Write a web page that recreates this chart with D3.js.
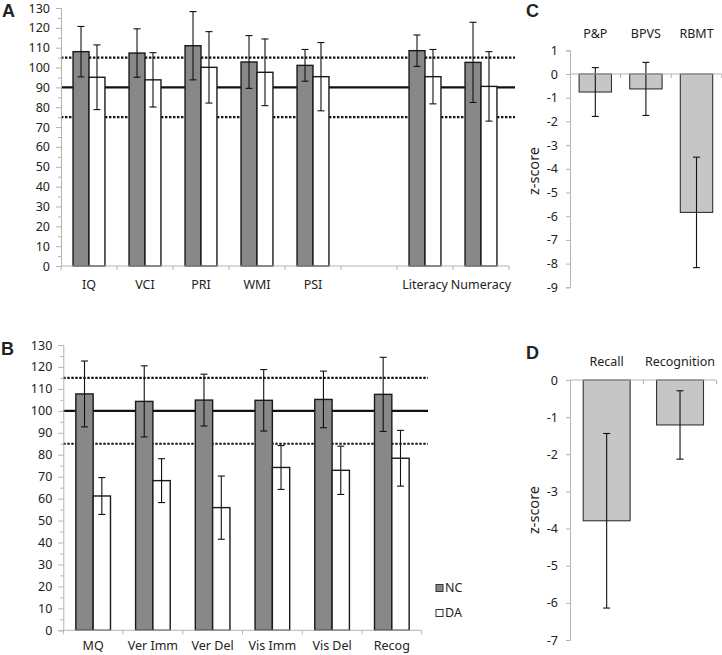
<!DOCTYPE html>
<html>
<head>
<meta charset="utf-8">
<script src="https://cdn.jsdelivr.net/npm/d3@7"></script>
<style>
  html, body { margin: 0; padding: 0; background: #fff; }
  svg { display: block; }
  text { font-family: "Noto Sans", "Open Sans", sans-serif; fill: #222; }
</style>
</head>
<body>
<svg id="chart" width="722" height="655"></svg>
<script>
// ---------- DATA ----------
const catsA = ["IQ", "VCI", "PRI", "WMI", "PSI", "", "Literacy", "Numeracy"];
const ncA    = [108.0, 107.3, 111.0, 102.8, 101.1, null, 108.5, 102.6];
const ncAErr = [12.7, 12.2, 17.2, 13.3, 8.0, null, 7.9, 20.2];
const daA    = [95.1, 93.8, 100.1, 97.6, 95.4, null, 95.4, 90.5];
const daAErr = [16.3, 13.7, 18.0, 16.8, 17.2, null, 13.7, 17.5];
const refLinesA = [75, 90, 105];   // lower dotted, solid mean, upper dotted

const catsB = ["MQ", "Ver Imm", "Ver Del", "Vis Imm", "Vis Del", "Recog"];
const ncB    = [107.7, 104.3, 104.9, 104.8, 105.2, 107.5];
const ncBErr = [15.0, 16.2, 11.8, 14.0, 12.9, 16.9];
const daB    = [61.2, 68.2, 55.9, 74.2, 72.9, 78.4];
const daBErr = [8.4, 10.0, 14.4, 10.0, 11.0, 12.7];
const refLinesB = [85, 100, 115];

const yTicksAB = d3.range(0, 131, 10);

const catsC = ["P&P", "BPVS", "RBMT"];
const zC    = [-0.76, -0.63, -5.84];
const zCErr = [1.03, 1.12, 2.33];
const yTicksC = d3.range(-9, 2, 1);

const catsD = ["Recall", "Recognition"];
const zD    = [-3.79, -1.21];
const zDErr = [2.35, 0.92];
const yTicksD = d3.range(-7, 1, 1);

const groups = ["NC", "DA"];

// ---------- DRAW ----------
const svg = d3.select("#chart");
svg.append("rect").attr("width", 722).attr("height", 655).attr("fill", "#fff");

const AXIS_COL = "#b3b3b3";
const NC_FILL = "#888888";
const DA_FILL = "#ffffff";
const Z_FILL = "#c6c6c6";
const fmt = d => String(d);   // plain hyphen-minus like the original

function panelLabel(t, x, y) {
  svg.append("text").attr("x", x).attr("y", y).text(t)
    .style("font-family", "'Liberation Sans', Arial, sans-serif")
    .style("font-weight", "bold").style("font-size", "18px").attr("fill", "#000");
}

function errorBar(g, cx, y, v, e, capHalf) {
  g.append("line").attr("x1", cx).attr("x2", cx).attr("y1", y(v + e)).attr("y2", y(v - e))
    .attr("stroke", "#111").attr("stroke-width", 1.1);
  [v + e, v - e].forEach(t => {
    g.append("line").attr("x1", cx - capHalf).attr("x2", cx + capHalf)
      .attr("y1", y(t)).attr("y2", y(t)).attr("stroke", "#111").attr("stroke-width", 1.1);
  });
}

function groupedPanel(o) {
  const g = svg.append("g");
  const y = d3.scaleLinear().domain([0, 130]).range([o.yBottom, o.yTop]);
  const x = d3.scaleBand().domain(d3.range(o.cats.length)).range([o.x0, o.x1])
    .paddingInner(o.padIn).paddingOuter(o.padIn / 2);
  const xs = d3.scaleBand().domain(groups).range([0, x.bandwidth()]);

  // reference lines (behind bars)
  o.refs.forEach((r, i) => {
    g.append("line").attr("x1", o.x0).attr("x2", o.lineEnd)
      .attr("y1", y(r)).attr("y2", y(r))
      .attr("stroke", "#111").attr("stroke-width", 2.2)
      .attr("stroke-dasharray", i === 1 ? null : "2.4,1.6");
  });

  // bars
  const series = [
    { key: "NC", vals: o.nc, errs: o.ncErr, fill: NC_FILL },
    { key: "DA", vals: o.da, errs: o.daErr, fill: DA_FILL }
  ];
  series.forEach(s => {
    s.vals.forEach((v, i) => {
      if (v == null) return;
      g.append("rect")
        .attr("x", x(i) + xs(s.key)).attr("width", xs.bandwidth())
        .attr("y", y(v)).attr("height", y(0) - y(v))
        .attr("fill", s.fill).attr("stroke", "#1a1a1a").attr("stroke-width", 1.4);
    });
  });
  series.forEach(s => {
    s.vals.forEach((v, i) => {
      if (v == null) return;
      errorBar(g, x(i) + xs(s.key) + xs.bandwidth() / 2, y, v, s.errs[i], 3.5);
    });
  });

  // y axis
  const ya = g.append("g").attr("transform", `translate(${o.x0},0)`)
    .call(d3.axisLeft(y).tickValues(yTicksAB).tickSize(5).tickPadding(6).tickFormat(fmt));
  ya.select(".domain").attr("stroke", AXIS_COL);
  ya.selectAll(".tick line").attr("stroke", AXIS_COL);
  ya.selectAll(".tick text").style("font-size", "12.5px").attr("fill", "#222");
  // minor ticks
  g.append("g").attr("transform", `translate(${o.x0},0)`)
    .call(d3.axisLeft(y).tickValues(d3.range(5, 130, 10)).tickSize(3).tickFormat(""))
    .call(a => a.select(".domain").remove())
    .selectAll(".tick line").attr("stroke", AXIS_COL);

  // x axis
  g.append("line").attr("x1", o.x0).attr("x2", o.x1).attr("y1", y(0)).attr("y2", y(0))
    .attr("stroke", AXIS_COL);
  d3.range(o.cats.length + 1).forEach(i => {
    const xx = o.x0 + i * x.step();
    g.append("line").attr("x1", xx).attr("x2", xx).attr("y1", y(0)).attr("y2", y(0) + 4)
      .attr("stroke", AXIS_COL);
  });
  o.cats.forEach((c, i) => {
    g.append("text").attr("x", x(i) + x.bandwidth() / 2).attr("y", o.labelY)
      .attr("text-anchor", "middle").style("font-size", "12.5px").text(c);
  });
  return g;
}

function zPanel(o) {
  const g = svg.append("g");
  const y = d3.scaleLinear().domain(o.domain).range([o.yBottom, o.yTop]);
  const x = d3.scaleBand().domain(o.cats).range([o.x0, o.x1]).paddingInner(0.36).paddingOuter(0.18);

  o.vals.forEach((v, i) => {
    g.append("rect").attr("x", x(o.cats[i])).attr("width", x.bandwidth())
      .attr("y", y(0)).attr("height", y(v) - y(0))
      .attr("fill", Z_FILL).attr("stroke", "#333").attr("stroke-width", 1.1);
  });
  o.vals.forEach((v, i) => {
    errorBar(g, x(o.cats[i]) + x.bandwidth() / 2, y, v, o.errs[i], 3.5);
  });

  const ya = g.append("g").attr("transform", `translate(${o.x0},0)`)
    .call(d3.axisLeft(y).tickValues(o.ticks).tickSize(4).tickPadding(8).tickFormat(fmt));
  ya.select(".domain").attr("stroke", AXIS_COL);
  ya.selectAll(".tick line").attr("stroke", AXIS_COL);
  ya.selectAll(".tick text").style("font-size", "12.5px").attr("fill", "#222");

  g.append("line").attr("x1", o.x0).attr("x2", o.x1).attr("y1", y(0)).attr("y2", y(0))
    .attr("stroke", AXIS_COL);
  d3.range(1, o.cats.length + 1).forEach(i => {
    const xx = o.x0 + i * x.step();
    g.append("line").attr("x1", xx).attr("x2", xx).attr("y1", y(0)).attr("y2", y(0) + 4)
      .attr("stroke", AXIS_COL);
  });
  o.cats.forEach(c => {
    g.append("text").attr("x", x(c) + x.bandwidth() / 2).attr("y", o.labelY)
      .attr("text-anchor", "middle").style("font-size", "12.5px").text(c);
  });
  g.append("text").attr("transform", `translate(539,${o.zY}) rotate(-90)`)
    .attr("text-anchor", "middle").style("font-size", "14.5px").text("z-score");
}

// Panel A
panelLabel("A", 2, 17);
groupedPanel({
  cats: catsA, nc: ncA, ncErr: ncAErr, da: daA, daErr: daAErr, refs: refLinesA,
  x0: 61, x1: 509, yTop: 8, yBottom: 266, padIn: 0.43, lineEnd: 515, labelY: 289
});

// Panel B
panelLabel("B", 1, 355);
groupedPanel({
  cats: catsB, nc: ncB, ncErr: ncBErr, da: daB, daErr: daBErr, refs: refLinesB,
  x0: 63.3, x1: 421.7, yTop: 345, yBottom: 630.3, padIn: 0.42, lineEnd: 428, labelY: 650
});

// Legend (panel B)
const leg = svg.append("g");
[{ k: "NC", f: NC_FILL, yy: 584.5 }, { k: "DA", f: DA_FILL, yy: 609.5 }].forEach(d => {
  leg.append("rect").attr("x", 436).attr("y", d.yy).attr("width", 7).attr("height", 7)
    .attr("fill", d.f).attr("stroke", "#333").attr("stroke-width", 1);
  leg.append("text").attr("x", 445).attr("y", d.yy + 7.5).style("font-size", "12.5px").text(d.k);
});

// Panel C
panelLabel("C", 526, 17);
zPanel({
  cats: catsC, vals: zC, errs: zCErr, domain: [-9, 1], ticks: yTicksC,
  x0: 570, x1: 721.8, yTop: 50.3, yBottom: 287.3, labelY: 37.5, zY: 171
});

// Panel D
panelLabel("D", 526, 359);
zPanel({
  cats: catsD, vals: zD, errs: zDErr, domain: [-7, 0], ticks: yTicksD,
  x0: 570, x1: 716.7, yTop: 380, yBottom: 640, labelY: 365.5, zY: 510
});
</script>
</body>
</html>
